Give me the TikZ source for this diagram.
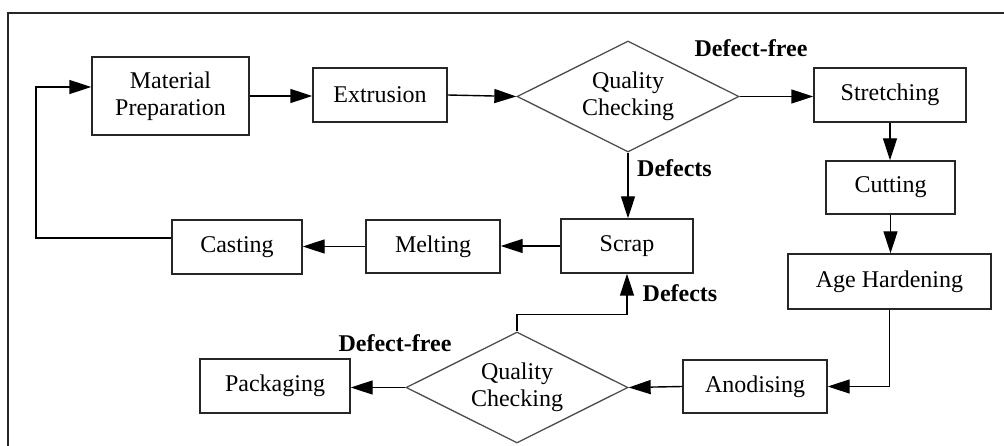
\documentclass[tikz,border=0pt]{standalone}
\usepackage{fontspec}
\setmainfont{Liberation Serif}
\usetikzlibrary{shapes.geometric,arrows.meta}
\begin{document}
\begin{tikzpicture}[x=1pt,y=-1pt,
  every node/.style={font=\fontsize{24}{27.5}\selectfont},
  box/.style={draw=black!85, line width=1.4pt, rectangle, inner sep=0pt, align=center},
  dia/.style={draw=black!70, line width=1.3pt, diamond, aspect=2, inner sep=0pt, minimum width=222pt, minimum height=111pt, align=center},
  arr/.style={line width=1.4pt, -{Triangle[length=22pt,width=14pt]}},
  lbl/.style={font=\fontsize{24}{27.5}\selectfont\bfseries}]
\useasboundingbox (0,0) rectangle (1004,446);
\draw[line width=2.6pt, black!85] (8,446) -- (8,13) -- (1004,13);

\node[box, minimum width=157pt, minimum height=78pt] (mat) at (170.5,96) {Material\\Preparation};
\node[box, minimum width=134pt, minimum height=54pt] (ext) at (380,95) {Extrusion};
\node[dia] (qc1) at (628,96.5) {Quality\\Checking};
\node[box, minimum width=152pt, minimum height=54pt] (str) at (890,95) {Stretching};
\node[box, minimum width=129pt, minimum height=53pt] (cut) at (890.5,187.5) {Cutting};
\node[box, minimum width=203pt, minimum height=55pt] (age) at (889.5,281.5) {Age Hardening};
\node[box, minimum width=144pt, minimum height=53pt] (anod) at (755,386.5) {Anodising};
\node[dia] (qc2) at (517,387.5) {Quality\\Checking};
\node[box, minimum width=150pt, minimum height=54pt] (pack) at (275,386) {Packaging};
\node[box, minimum width=132pt, minimum height=54pt] (scrap) at (627,246) {Scrap};
\node[box, minimum width=134pt, minimum height=53pt] (melt) at (433,246.5) {Melting};
\node[box, minimum width=130pt, minimum height=54pt] (cast) at (237,247) {Casting};

\node[lbl] (l1) at (751,48) {Defect-free};
\node[lbl] (l2) at (674.5,168) {Defects};
\node[lbl] (l3) at (680,293) {Defects};
\node[lbl] (l4) at (395,343) {Defect-free};

\coordinate (fb1) at (36,238);
\coordinate (fb2) at (36,87);

\draw[arr] (mat.east) -- (mat.east -| ext.west);
\draw[arr] (ext.west -| ext.east) -- (qc1.west);
\draw[arr] (qc1.east) -- (qc1.east -| str.west);
\draw[arr] (str.south) -- (str.south |- cut.north);
\draw[arr] (cut.south) -- (cut.south |- age.north);
\draw[arr] (age.south) |- (anod.east);
\draw[arr] (anod.west) -- (qc2.east);
\draw[arr] (qc2.west) -- (qc2.west -| pack.east);
\draw[arr] (qc2.north) -- ++(0,-17) -| (scrap.south);
\draw[arr] (qc1.south) -- (qc1.south |- scrap.north);
\draw[arr] (scrap.west) -- (scrap.west -| melt.east);
\draw[arr] (melt.west) -- (melt.west -| cast.east);
\draw[arr] (cast.west |- fb1) -- (fb1) -- (fb2) -- (mat.west |- fb2);
\end{tikzpicture}
\end{document}
